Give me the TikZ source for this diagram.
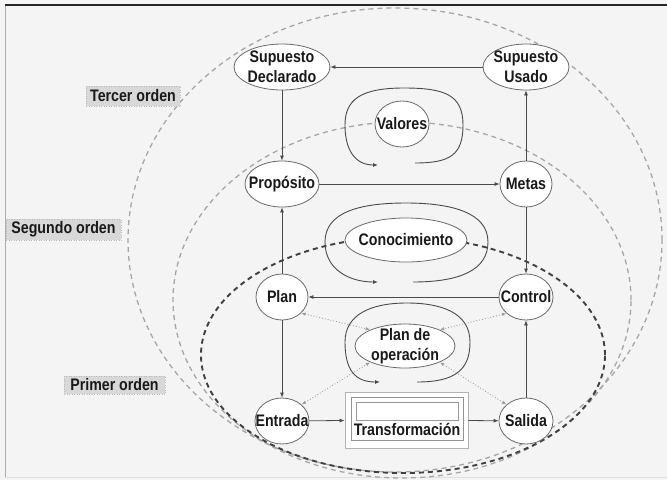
\documentclass[tikz,border=0pt]{standalone}
\usepackage{fontspec}
\setmainfont{Liberation Sans}[FakeStretch=0.85]
\usetikzlibrary{arrows.meta,shapes.geometric}
\definecolor{bgc}{HTML}{F4F4F4}
\definecolor{edgec}{HTML}{6A6A6A}
\definecolor{linec}{HTML}{4A4A4A}
\definecolor{lightdash}{HTML}{A6A6A6}
\definecolor{darkdash}{HTML}{404040}
\definecolor{lblfill}{HTML}{D8D8D8}
\newcommand\lblfont{\fontsize{16.7}{20}\selectfont\bfseries}
\begin{document}
\begin{tikzpicture}[x=1pt,y=-1pt,
  ell/.style={ellipse, draw=edgec, fill=white, line width=0.8pt, inner sep=0pt},
  txt/.style={font=\lblfont, align=center, text=black!90, inner sep=0pt},
  conn/.style={draw=linec, line width=0.8pt, -{Latex[length=5pt,width=4pt]}},
  dotc/.style={draw=gray!75, line width=0.9pt, dotted, {Latex[length=4.5pt,width=3.5pt]}-{Latex[length=4.5pt,width=3.5pt]}},
  loopy/.style={draw=linec, line width=0.9pt, -{Latex[length=5pt,width=4pt]}},
  ldash/.style={draw=lightdash, line width=1.3pt, dash pattern=on 5pt off 4pt},
  ddash/.style={draw=darkdash, line width=1.9pt, dash pattern=on 5pt off 4pt},
  lbl/.style={font=\lblfont, fill=lblfill, draw=gray!55, dotted, line width=0.5pt, inner sep=0pt, text=black!90}
]
\useasboundingbox (0,0) rectangle (667,480);
\fill[bgc] (0,0) rectangle (667,480);
% frame
\draw[gray!25, line width=0.8pt] (5,477) -- (667,477);
\draw[gray!65, line width=1pt] (5,5) -- (5,477);
\draw[black!85, line width=1.3pt] (5,5) -- (667,5);

% order ellipses
\draw[ldash] (395,240) ellipse [x radius=267pt, y radius=232pt];
\draw[ldash] (402,300) ellipse [x radius=229pt, y radius=178pt];
\draw[ddash] (403,355) ellipse [x radius=202pt, y radius=118pt];

% labels
\node[lbl, minimum width=94pt, minimum height=20pt] (l3) at (133,96) {Tercer orden};
\node[lbl, minimum width=115pt, minimum height=21pt] (l2) at (63.5,229.5) {Segundo orden};
\node[lbl, minimum width=101pt, minimum height=18pt] (l1) at (114.5,385) {Primer orden};

% loops
\draw[loopy] (415,163) .. controls (450,163) and (463,155) .. (463,125)
  .. controls (463,95) and (445,88) .. (404,88)
  .. controls (360,88) and (345,100) .. (345,125)
  .. controls (345,150) and (355,165) .. (378,165);
\draw[loopy] (413,282) .. controls (460,282) and (488,270) .. (488,242)
  .. controls (488,212) and (450,203) .. (406,203)
  .. controls (360,203) and (325,212) .. (325,242)
  .. controls (325,270) and (350,282) .. (378,282);
\draw[loopy] (417,382) .. controls (455,382) and (470,370) .. (470,342)
  .. controls (470,312) and (440,303) .. (407,303)
  .. controls (370,303) and (345,315) .. (345,342)
  .. controls (345,370) and (355,382) .. (380,382);

% nodes
\node[ell, minimum width=96pt, minimum height=46pt, label={[txt]center:{Supuesto\\Declarado}}] (sd) at (282,67) {};
\node[ell, minimum width=86pt, minimum height=46pt, label={[txt]center:{Supuesto\\Usado}}] (su) at (526,67) {};
\node[ell, minimum width=54pt, minimum height=46pt, label={[txt]center:Valores}] (val) at (402,124) {};
\node[ell, minimum width=74pt, minimum height=46pt, label={[txt]center:Propósito}] (prop) at (282,184) {};
\node[ell, minimum width=52pt, minimum height=46pt, label={[txt]center:Metas}] (met) at (526,184) {};
\node[ell, minimum width=122pt, minimum height=44pt, label={[txt]center:Conocimiento}] (con) at (406,240) {};
\node[ell, minimum width=52pt, minimum height=46pt, label={[txt]center:Plan}] (plan) at (282,297) {};
\node[ell, minimum width=54pt, minimum height=46pt, label={[txt]center:Control}] (ctrl) at (526,297) {};
\node[ell, minimum width=100pt, minimum height=44pt, label={[txt]center:{Plan de\\operación}}] (pdo) at (405,346) {};
\node[ell, minimum width=54pt, minimum height=46pt, label={[txt]center:Entrada}] (ent) at (282,421) {};
\node[ell, minimum width=54pt, minimum height=46pt, label={[txt]center:Salida}] (sal) at (526,421) {};

% transformation box
\node[draw=gray!60, fill=white, line width=0.8pt, minimum width=123pt, minimum height=56pt, inner sep=0pt] (tr) at (406.5,420) {};
\node[draw=gray!85, line width=0.8pt, minimum width=112pt, minimum height=43pt, inner sep=0pt] (tri) at (407,418.5) {};
\node[draw=gray!80, fill=white, line width=0.8pt, minimum width=102pt, minimum height=18pt, inner sep=0pt] (trb) at (407,411) {};
\node[txt] (trt) at (407,429) {Transformación};

% connectors
\draw[conn] (su) -- (sd);
\draw[conn] (sd) -- (prop);
\draw[conn] (prop) -- (met);
\draw[conn] (met) -- (su);
\draw[conn] (met) -- (ctrl);
\draw[conn] (plan) -- (prop);
\draw[conn] (ctrl) -- (plan);
\draw[conn] (plan) -- (ent);
\draw[conn] (ent) -- (tr);
\draw[conn] (tr) -- (sal);
\draw[conn] (sal) -- (ctrl);

% dotted links
\draw[dotc] (plan.-40) -- (pdo.155);
\draw[dotc] (ctrl.-140) -- (pdo.25);
\draw[dotc] (ent.40) -- (pdo.205);
\draw[dotc] (sal.140) -- (pdo.-25);
\end{tikzpicture}
\end{document}
